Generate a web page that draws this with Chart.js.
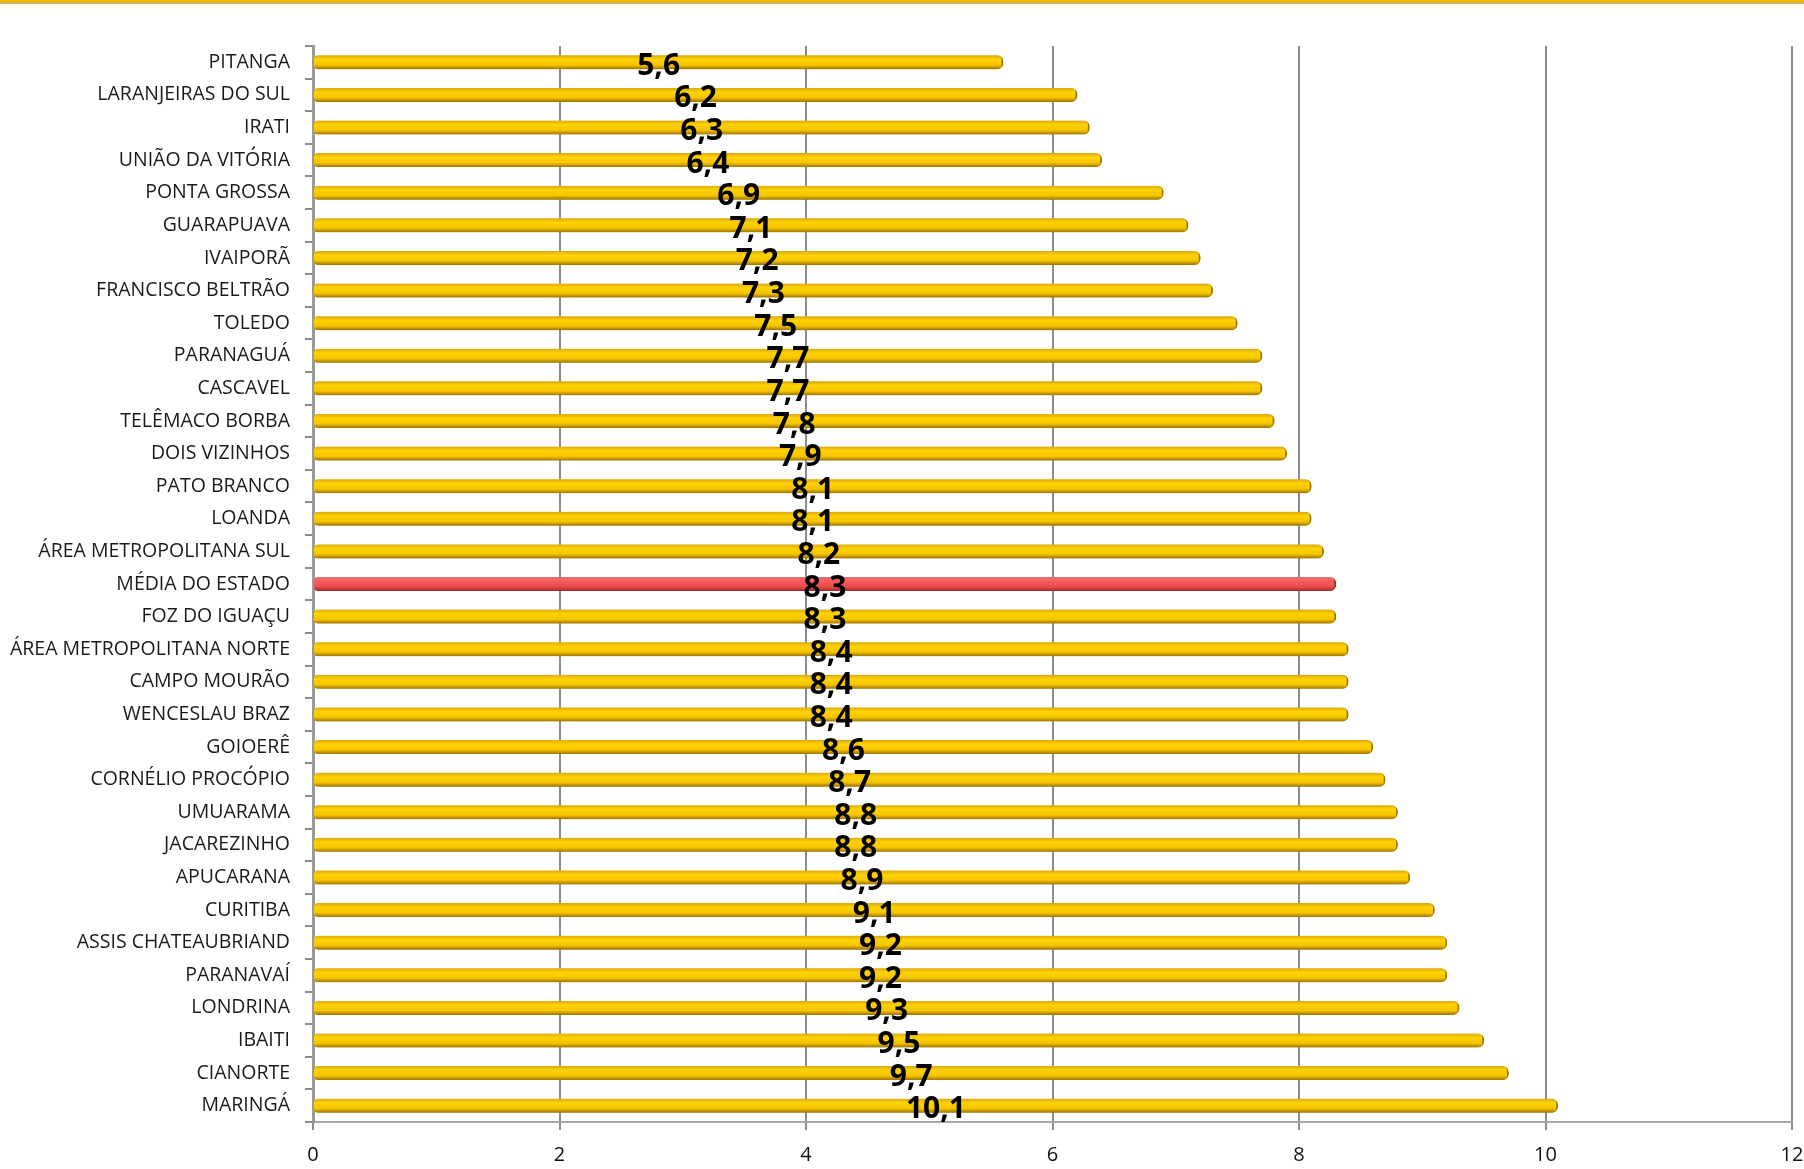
<!DOCTYPE html>
<html lang="pt">
<head>
    <meta charset="UTF-8">
    <title>Média por regional</title>
    <script src="https://cdn.jsdelivr.net/npm/chart.js"></script>
    <style>
        html, body {
            margin: 0;
            padding: 0;
            background: #fff;
        }
        .topline {
            position: absolute;
            left: 0; top: 0;
            width: 1804px;
            height: 3px;
            background: #f2b700;
            border-bottom: 1px solid #b9b9b9;
        }
        .wrap {
            position: absolute;
            left: 0; top: 0;
            width: 1804px;
            height: 1169px;
        }
    </style>
</head>
<body>

<div class="topline"></div>
<div class="wrap"><canvas id="chart"></canvas></div>

<script>
    const regionais = [
        'PITANGA', 'LARANJEIRAS DO SUL', 'IRATI', 'UNIÃO DA VITÓRIA', 'PONTA GROSSA',
        'GUARAPUAVA', 'IVAIPORÃ', 'FRANCISCO BELTRÃO', 'TOLEDO', 'PARANAGUÁ',
        'CASCAVEL', 'TELÊMACO BORBA', 'DOIS VIZINHOS', 'PATO BRANCO', 'LOANDA',
        'ÁREA METROPOLITANA SUL', 'MÉDIA DO ESTADO', 'FOZ DO IGUAÇU', 'ÁREA METROPOLITANA NORTE',
        'CAMPO MOURÃO', 'WENCESLAU BRAZ', 'GOIOERÊ', 'CORNÉLIO PROCÓPIO', 'UMUARAMA',
        'JACAREZINHO', 'APUCARANA', 'CURITIBA', 'ASSIS CHATEAUBRIAND', 'PARANAVAÍ',
        'LONDRINA', 'IBAITI', 'CIANORTE', 'MARINGÁ'
    ];
    const valores = [
        5.6, 6.2, 6.3, 6.4, 6.9,
        7.1, 7.2, 7.3, 7.5, 7.7,
        7.7, 7.8, 7.9, 8.1, 8.1,
        8.2, 8.3, 8.3, 8.4,
        8.4, 8.4, 8.6, 8.7, 8.8,
        8.8, 8.9, 9.1, 9.2, 9.2,
        9.3, 9.5, 9.7, 10.1
    ];
    const destaque = 'MÉDIA DO ESTADO';

    const BAR_H = 14;

    // gradiente "cilindro" em cada barra
    function barFill(ctx) {
        const chart = ctx.chart;
        const red = regionais[ctx.dataIndex] === destaque;
        if (!chart.chartArea) return red ? '#f05555' : '#ffcc00';
        const y = chart.scales.y.getPixelForValue(ctx.dataIndex);
        const g = chart.ctx.createLinearGradient(0, y - BAR_H / 2, 0, y + BAR_H / 2);
        if (red) {
            g.addColorStop(0, '#e07070');
            g.addColorStop(0.3, '#ff5a5a');
            g.addColorStop(0.7, '#e84c4c');
            g.addColorStop(1, '#9c2b2b');
        } else {
            g.addColorStop(0, '#d9aa10');
            g.addColorStop(0.3, '#ffd200');
            g.addColorStop(0.7, '#f5c400');
            g.addColorStop(1, '#9c7200');
        }
        return g;
    }

    const valueLabels = {
        id: 'valueLabels',
        afterDatasetsDraw(chart) {
            const c = chart.ctx;
            const meta = chart.getDatasetMeta(0);
            c.save();
            c.font = 'bold 30px "Open Sans", sans-serif';
            c.fillStyle = '#000';
            c.textAlign = 'center';
            c.textBaseline = 'middle';
            meta.data.forEach((bar, i) => {
                const txt = valores[i].toFixed(1).replace('.', ',');
                c.fillText(txt, (bar.x + bar.base) / 2, bar.y + 4);
            });
            c.restore();
        }
    };

    new Chart(document.getElementById('chart'), {
        type: 'bar',
        data: {
            labels: regionais,
            datasets: [{
                data: valores,
                backgroundColor: barFill,
                borderColor: ctx => regionais[ctx.dataIndex] === destaque ? '#a03030' : '#a07a00',
                borderWidth: { top: 0, bottom: 0, left: 0, right: 2 },
                borderRadius: { topRight: 6, bottomRight: 6, topLeft: 4, bottomLeft: 4 },
                borderSkipped: false,
                barThickness: BAR_H
            }]
        },
        options: {
            indexAxis: 'y',
            responsive: true,
            maintainAspectRatio: false,
            animation: false,
            layout: { padding: { top: 46, right: 0, left: 0, bottom: 0 } },
            plugins: {
                legend: { display: false },
                tooltip: { enabled: false }
            },
            scales: {
                x: {
                    min: 0,
                    max: 12,
                    ticks: {
                        stepSize: 2,
                        color: '#111',
                        font: { family: 'Open Sans', size: 20 },
                        padding: 13
                    },
                    grid: {
                        color: '#8c8c8c',
                        lineWidth: 2,
                        tickLength: 8
                    },
                    border: { color: '#a6a6a6', width: 2 },
                    afterFit(scale) {
                        scale.height = 47;
                        scale.paddingRight = 12;
                    }
                },
                y: {
                    ticks: {
                        color: '#1a1a1a',
                        font: { family: 'Open Sans', size: 19.5 },
                        padding: 15
                    },
                    grid: {
                        drawOnChartArea: false,
                        color: '#8c8c8c',
                        lineWidth: 2,
                        tickLength: 8
                    },
                    border: { color: '#9a9a9a', width: 3 },
                    afterFit(scale) { scale.width = 313; }
                }
            }
        },
        plugins: [valueLabels]
    });
</script>

</body>
</html>
